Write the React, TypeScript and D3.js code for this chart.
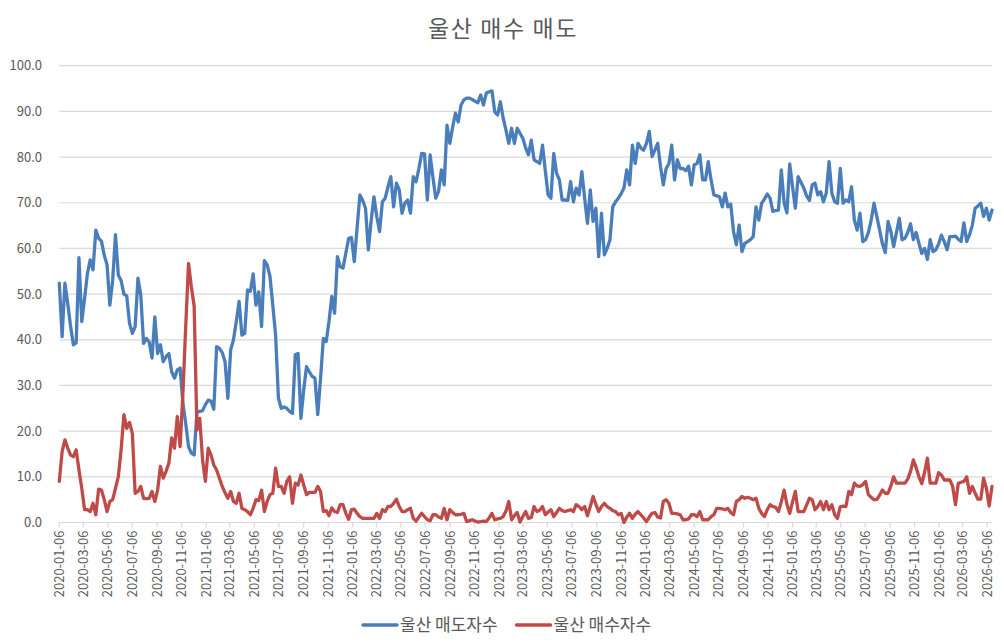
import * as d3 from "d3";

const startDate = new Date(Date.UTC(2020, 0, 6));
const endDate = new Date(Date.UTC(2026, 4, 18));

// weekly values from 2020-01-06
const sellers = [
  52.4, 40.7, 52.4, 48, 43, 38.9, 39.3, 58, 44, 49,
  54.5, 57.5, 55.3, 64, 62.2, 61.6, 58.5, 56.4, 47.6, 53,
  63, 54.2, 53, 50, 49.6, 43.6, 41.4, 42.9, 53.5, 49.8,
  39.2, 40.3, 39.5, 36, 45, 37, 38.9, 35.2, 36.3, 37,
  33, 31.6, 33.4, 33.8, 26.1, 21.7, 16.6, 15.2, 14.8, 24.3,
  24.3, 24.5, 25.8, 26.8, 26.6, 24.8, 38.5, 38.1, 37.2, 35.2,
  27.2, 37.8, 40, 44, 48.4, 41, 41.4, 50.9, 50.6, 54.4,
  47.6, 50.5, 42.9, 57.3, 56.4, 53.8, 47.5, 41, 27.2, 25,
  25.3, 25, 24.3, 23.9, 36.7, 37, 22.8, 29, 34.1, 33,
  32, 31.6, 23.6, 31.6, 40.3, 39.6, 44, 49.5, 45.8, 58.2,
  56, 55.7, 59, 62.2, 62.4, 57.1, 64.5, 71.7, 70.5, 68.8,
  59.7, 66, 71.3, 67, 63.7, 70.2, 71, 73.5, 75.7, 69.1,
  74.3, 72.8, 67.7, 69.9, 70.6, 67.7, 75.7, 74.6, 77.5, 80.8,
  80.7, 70.6, 80.5, 75.5, 71, 72.5, 77.2, 73.9, 87, 83,
  86.5, 89.6, 87.7, 91.4, 92.5, 92.9, 92.9, 92.6, 92.2, 91.9,
  93.6, 91.4, 94, 94.3, 94.5, 89.9, 89.2, 92.1, 88.5, 85.9,
  83, 86.3, 83, 86.3, 85.2, 84.1, 82, 80.5, 83.7, 79.4,
  79, 78.6, 82.6, 77, 71.7, 71, 80.8, 76.5, 75, 70.6,
  70.6, 70.5, 74.6, 70.2, 73.2, 71.7, 76.8, 71, 65.5, 72.8,
  65.9, 68.8, 58.2, 67.7, 58.6, 60, 61.9, 69.1, 70.2, 71,
  72, 73.2, 77.2, 73.9, 82.6, 78.6, 83, 82, 81.5, 83,
  85.6, 80.1, 81.5, 83, 78, 73.9, 77.5, 78.6, 82.6, 75,
  79.4, 77.5, 77.5, 77, 78, 73.9, 78.3, 78.6, 80.5, 75,
  75, 79, 75, 71.7, 71.5, 71.3, 69.1, 72.1, 69.1, 69.7,
  63.7, 60.8, 65.1, 59.3, 61.1, 61.5, 61.9, 62.6, 69.1, 66.2,
  69.9, 70.8, 71.9, 71, 68.1, 68.3, 68.4, 77.2, 70, 67.8,
  78.5, 73.5, 68.8, 75.7, 74.5, 73.2, 71.5, 70.5, 73.9, 74.3,
  71.7, 72.4, 70.2, 72.1, 79, 72.1, 70.2, 69.9, 77.5, 69.9,
  70.6, 70.2, 73.5, 66.2, 64, 67.7, 61.5, 61.9, 63.5, 66.2,
  69.9, 67, 64, 61, 59.1, 65.9, 63.7, 60.4, 63.5, 66.6,
  61.9, 62.2, 63.5, 65.4, 61.9, 63.5, 61.1, 58.9, 60, 57.6,
  61.9, 59.3, 59.7, 61, 62.9, 61.5, 59.7, 62.6, 62.6, 62.7,
  62, 61.5, 65.6, 61.5, 63, 65.1, 68.8, 69.3, 69.9, 67,
  68.8, 66.2, 68.4,
];

const buyers = [
  9, 15.5, 18.1, 16.3, 14.8, 14.4, 15.9, 11.5, 7.5, 2.8,
  2.8, 2.4, 4.2, 1.7, 7.3, 7.1, 5, 2.4, 4.6, 5,
  7.5, 10, 15.9, 23.6, 20.6, 21.9, 19.5, 6.4, 6.8, 7.9,
  5.3, 5.2, 5.3, 6.8, 4.6, 7.1, 12.3, 9.7, 11.2, 13,
  18.5, 16.3, 23.2, 16.6, 28.3, 42.9, 56.7, 51.6, 47.4, 20.3,
  22.8, 13.7, 9, 16.3, 14.8, 12.6, 11.5, 9.7, 7.9, 6.5,
  5.3, 6.8, 4.6, 4.2, 6.4, 3.1, 2.8, 2.4, 1.7, 3.1,
  5, 4.8, 7.1, 2.4, 4.6, 6.1, 6.4, 11.9, 7.9, 7.9,
  6.4, 9, 10, 4.2, 8.6, 8.2, 10.4, 8.2, 6.1, 6.6,
  6.6, 6.6, 7.9, 6.8, 2.4, 2.6, 1.5, 3.2, 2.4, 2.2,
  3.9, 3.9, 2, 0.7, 2.8, 2.9, 2, 1.3, 0.9, 0.9,
  0.9, 0.9, 0.9, 2, 0.9, 2.8, 2.4, 3.5, 3.5, 4.2,
  5.1, 3.5, 2.4, 2.4, 2.8, 3.1, 0.9, 0.3, 1.2, 2,
  1.3, 0.6, 0.4, 1.7, 1.7, 1.2, 0.9, 3.1, 0.6, 2.8,
  2.2, 1.7, 1.7, 1.8, 2, 0.2, 0.4, 0.6, 0.3, 0.1,
  0.2, 0.3, 0.2, 1, 2, 0.6, 0.8, 0.9, 1.3, 2.5,
  4.6, 0.6, 1.5, 2.2, 0.1, 1.3, 2.4, 0.9, 1.1, 3.5,
  2.4, 2.7, 3.5, 1.7, 2.3, 2.8, 1.3, 2.2, 3.1, 2.6,
  2.4, 2.6, 2.8, 2.4, 3.9, 3.5, 2.8, 3.5, 1.5, 3.5,
  5.7, 4, 2.4, 3.5, 4.2, 3.5, 3.1, 2.6, 2.4, 1.7,
  2, 0, 1.2, 2, 0.9, 1.8, 2.4, 1.7, 1, 0.2,
  1.2, 2, 2.2, 1.2, 1, 4.6, 5, 4.2, 2, 2,
  1.9, 1.7, 0.6, 0.6, 0.8, 1.7, 1.7, 1.3, 2.4, 0.6,
  0.6, 0.6, 1.3, 1.7, 3.1, 3.1, 3, 2.8, 3.1, 2.2,
  1.7, 4.6, 5, 5.7, 5.3, 5.5, 5.3, 5, 5.3, 3.1,
  2, 1.3, 2.8, 3.9, 3.5, 3.3, 2.4, 4.5, 7.1, 4,
  2, 4.5, 6.8, 2.4, 2.4, 2.4, 3.8, 5.3, 5, 2.8,
  3.5, 4.6, 2.8, 4.6, 2.8, 3.9, 1.7, 0.9, 3.5, 3.6,
  3.5, 6.8, 6.1, 8.6, 8, 7.9, 8.3, 9, 6.1, 5.5,
  5, 5, 6, 7.1, 6.4, 6.4, 8, 10, 8.6, 8.6,
  8.6, 8.6, 9.5, 11.2, 13.7, 12, 10, 8.5, 11, 14.1,
  8.6, 8.6, 8.6, 10.9, 10.4, 9.3, 9.3, 9.3, 7.9, 3.9,
  8.6, 8.8, 9, 10, 6.4, 7.9, 6.4, 5.1, 5.1, 9.7,
  7.5, 3.6, 7.9,
];

const yTicks = [0, 10, 20, 30, 40, 50, 60, 70, 80, 90, 100];
const seriesNames = ["울산 매도자수", "울산 매수자수"];
const seriesColors = ["#4a7ebb", "#be4b48"];

const W = 1004;
const H = 643;
const font = "'Noto Sans CJK KR', 'Noto Sans', sans-serif";
const textColor = "#595959";
const gridColor = "#d9d9d9";

export default function App() {
  const x = d3.scaleUtc().domain([startDate, endDate]).range([59.3, 992]);
  const y = d3.scaleLinear().domain([0, 100]).range([522.5, 65.7]);

  const dates = sellers.map((_, i) => d3.utcDay.offset(startDate, i * 7));
  const xTicks = d3.range(39).map((i) => d3.utcMonth.offset(startDate, i * 2));
  const fmt = d3.utcFormat("%Y-%m-%d");

  const line = d3
    .line<number>()
    .x((_, i) => x(dates[i]))
    .y((d) => y(d));

  const series = [sellers, buyers];

  return (
    <div style={{ position: "absolute", left: 0, top: 0 }}>
      <svg width={W} height={H} style={{ display: "block", fontFamily: font }}>
        <rect width={W} height={H} fill="#fff" />
        <text x={503} y={37} textAnchor="middle" fontSize={23} letterSpacing={1.6} fill={textColor}>
          울산 매수 매도
        </text>

        {/* grid + y labels */}
        {yTicks.map((t) => (
          <g key={t}>
            <line x1={59.3} x2={992} y1={y(t)} y2={y(t)} stroke={gridColor} strokeWidth={1.2} />
            <text x={42} y={y(t) + 4.5} textAnchor="end" fontSize={13} fill={textColor}>
              {t.toFixed(1)}
            </text>
          </g>
        ))}

        {/* x ticks */}
        {xTicks.map((d) => (
          <g key={+d} transform={`translate(${x(d)},${y(0)})`}>
            <line y1={0} y2={5} stroke={gridColor} strokeWidth={1.2} />
            <text
              transform="translate(4.5,8) rotate(-90)"
              textAnchor="end"
              fontSize={13}
              fill={textColor}
            >
              {fmt(d)}
            </text>
          </g>
        ))}

        {series.map((s, i) => (
          <path
            key={i}
            d={line(s) ?? ""}
            fill="none"
            stroke={seriesColors[i]}
            strokeWidth={3.3}
            strokeLinejoin="round"
            strokeLinecap="round"
          />
        ))}

        {/* legend */}
        {seriesNames.map((name, i) => {
          const lx = 363 + i * 153.5;
          return (
            <g key={name}>
              <line x1={lx} x2={lx + 34} y1={625} y2={625} stroke={seriesColors[i]} strokeWidth={3.5} strokeLinecap="round" />
              <text x={lx + 37} y={631} fontSize={17} fill={textColor}>
                {name}
              </text>
            </g>
          );
        })}
      </svg>
    </div>
  );
}
